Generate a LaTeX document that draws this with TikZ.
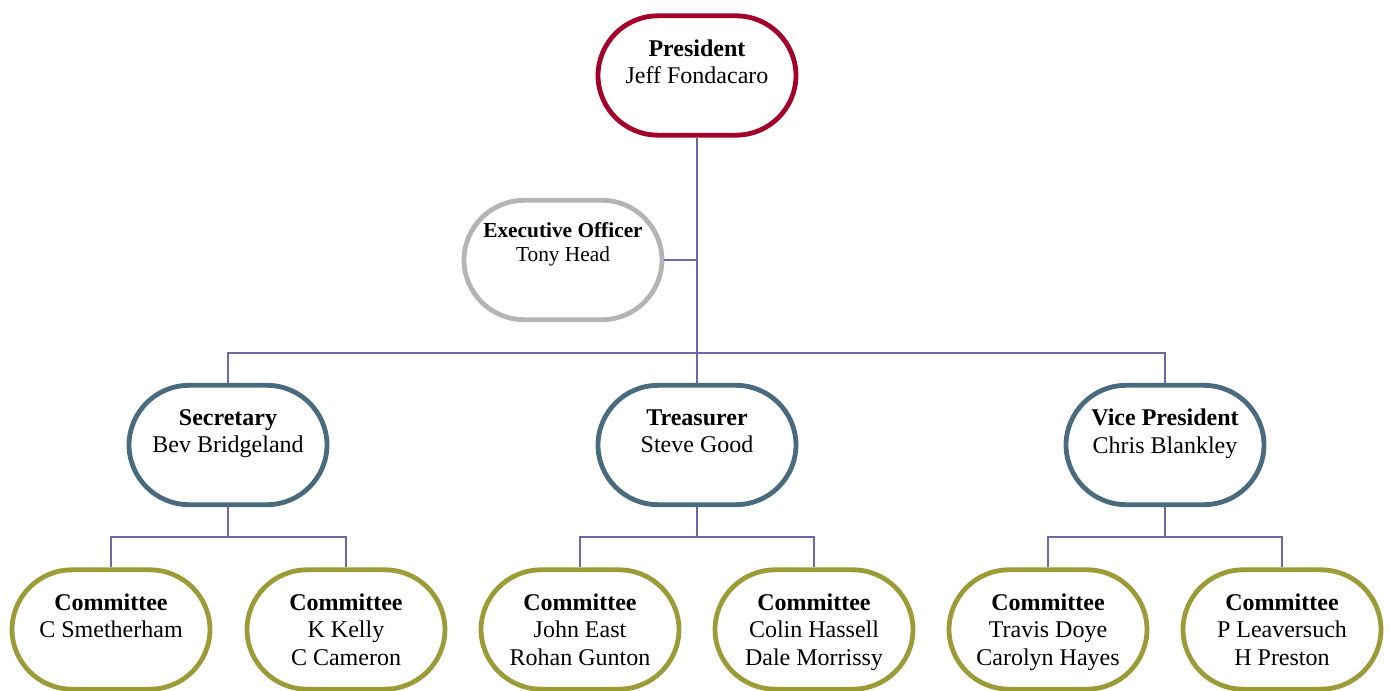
\documentclass[tikz,border=0pt]{standalone}
\usepackage{fontspec}
\setmainfont{Liberation Serif}
\usetikzlibrary{calc}

\definecolor{presred}{HTML}{A3002A}
\definecolor{execgray}{HTML}{B4B4B4}
\definecolor{offslate}{HTML}{4A6A7E}
\definecolor{cmtolive}{HTML}{9B9B38}
\definecolor{linkpurple}{HTML}{6E69A6}

\begin{document}
\begin{tikzpicture}[
x=0.75pt,y=-0.75pt,
post/.style={
  draw,
  fill=white,
  line width=3.6pt,
  rounded corners=45pt,
  minimum width=148.5pt,
  minimum height=89.5pt,
  align=center,
  inner sep=0pt,
  text depth=0pt,
  font=\fontsize{18}{20.5}\selectfont
},
pres/.style={post,draw=presred},
exec/.style={
  post,
  draw=execgray,
  text depth=8.3pt,
  font=\fontsize{16}{18}\selectfont
},
officer/.style={post,draw=offslate},
cmt/.style={post,draw=cmtolive},
link/.style={
  draw=linkpurple,
  line width=1.2pt
}
]
\useasboundingbox (0,0) rectangle (1391,691);

\node[pres] at (697,75.5) (president)
  {\textbf{President}\\Jeff Fondacaro\\\mbox{}};
\node[exec] at (563,260) (execoff)
  {\textbf{Executive Officer}\\Tony Head\\\mbox{}};

\node[officer] at (228,445) (secretary)
  {\textbf{Secretary}\\Bev Bridgeland\\\mbox{}};
\node[officer] at (697,445) (treasurer)
  {\textbf{Treasurer}\\Steve Good\\\mbox{}};
\node[officer] at (1165,445) (vicepres)
  {\textbf{Vice President}\\Chris Blankley\\\mbox{}};

\node[cmt] at (111,629.5) (cmtA)
  {\textbf{Committee}\\C Smetherham\\\mbox{}};
\node[cmt] at (346,629.5) (cmtB)
  {\textbf{Committee}\\K Kelly\\C Cameron};
\node[cmt] at (580,629.5) (cmtC)
  {\textbf{Committee}\\John East\\Rohan Gunton};
\node[cmt] at (814,629.5) (cmtD)
  {\textbf{Committee}\\Colin Hassell\\Dale Morrissy};
\node[cmt] at (1048,629.5) (cmtE)
  {\textbf{Committee}\\Travis Doye\\Carolyn Hayes};
\node[cmt] at (1282,629.5) (cmtF)
  {\textbf{Committee}\\P Leaversuch\\H Preston};

% top level links
\coordinate (topbus) at (697,353);
\draw[link] (president.south) -- (treasurer.north);
\draw[link] (execoff.east) -- (execoff.east -| president.south);
\draw[link] (secretary.north) |- (topbus) -| (vicepres.north);

% committee links
\foreach \boss/\lcmt/\rcmt in {secretary/cmtA/cmtB,treasurer/cmtC/cmtD,vicepres/cmtE/cmtF}{
  \coordinate (\boss-bus) at ($(\boss.south)!.5!(\boss.south |- \lcmt.north)$);
  \draw[link] (\boss.south) -- (\boss-bus);
  \draw[link] (\lcmt.north) |- (\boss-bus) -| (\rcmt.north);
}
\end{tikzpicture}
\end{document}
